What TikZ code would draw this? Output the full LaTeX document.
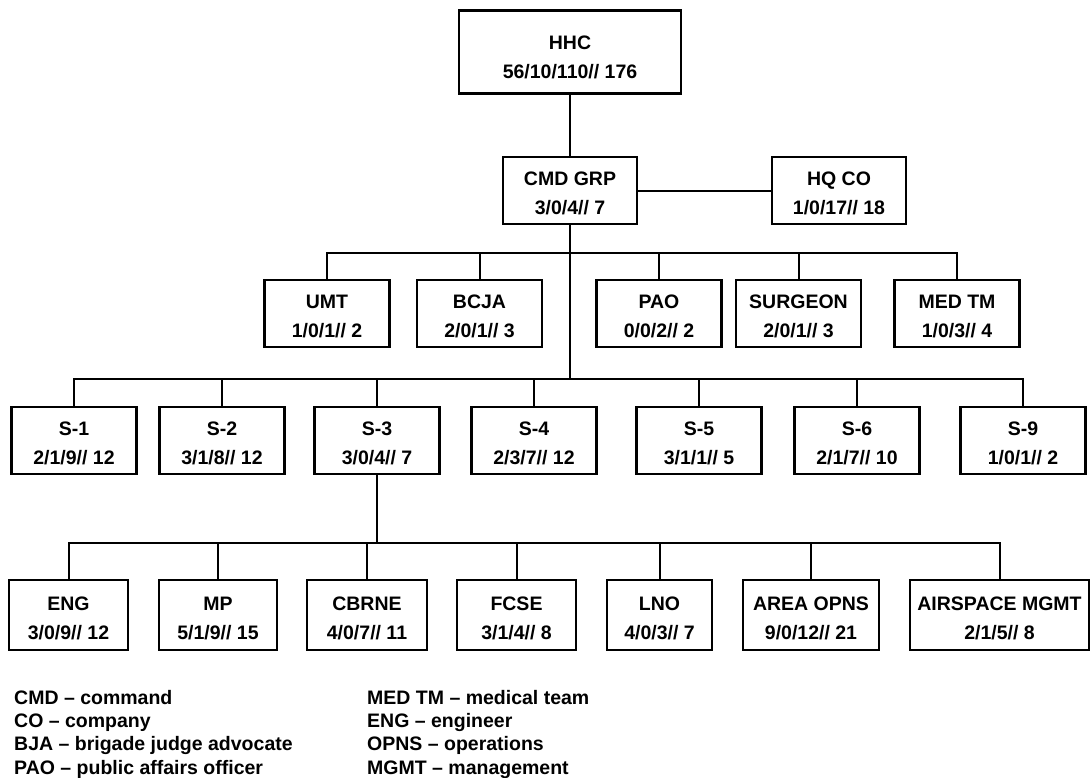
\documentclass[tikz,border=0pt]{standalone}
\usepackage{fontspec}
\setmainfont{Liberation Sans}
\newcommand\unitlabel[3][20pt]{\rule{0pt}{#1}#2\\#3}
\tikzset{
  unit/.style={draw, line width=2.8pt, inner sep=0pt, minimum width=125pt,
    minimum height=67pt, align=center,
    font=\bfseries\fontsize{19.5}{29}\selectfont},
  link/.style={line width=2pt},
  legend/.style={anchor=base west, inner sep=0pt,
    font=\bfseries\fontsize{19.5}{24}\selectfont}
}
\begin{document}
\begin{tikzpicture}[x=1pt,y=-1pt]
   \useasboundingbox (0,0) rectangle (1091,778);
   \node[unit, minimum width=222pt, minimum height=83pt] (hhc) at (570,52) {\unitlabel[23.5pt]{HHC}{56/10/110// 176}};
   \node[unit, minimum width=134pt] (cmd) at (570,190.5) {\unitlabel{CMD GRP}{3/0/4// 7}};
   \node[unit, minimum width=134pt] (hqco) at (839,190.5) {\unitlabel{HQ CO}{1/0/17// 18}};
   \coordinate (bus2) at (570,253);
   \coordinate (bus3) at (570,379);
   % staff sections
   \node[unit] (umt) at (327,313.5) {\unitlabel{UMT}{1/0/1// 2}};
   \node[unit] (bcja) at (479.5,313.5) {\unitlabel{BCJA}{2/0/1// 3}};
   \node[unit] (pao) at (659,313.5) {\unitlabel{PAO}{0/0/2// 2}};
   \node[unit] (surgeon) at (798.5,313.5) {\unitlabel{SURGEON}{2/0/1// 3}};
   \node[unit] (medtm) at (957,313.5) {\unitlabel{MED TM}{1/0/3// 4}};
   \node[unit] (s1) at (74,440.5) {\unitlabel{S-1}{2/1/9// 12}};
   \node[unit] (s2) at (222,440.5) {\unitlabel{S-2}{3/1/8// 12}};
   \node[unit] (s3) at (377,440.5) {\unitlabel{S-3}{3/0/4// 7}};
   \node[unit] (s4) at (534,440.5) {\unitlabel{S-4}{2/3/7// 12}};
   \node[unit] (s5) at (699,440.5) {\unitlabel{S-5}{3/1/1// 5}};
   \node[unit] (s6) at (857,440.5) {\unitlabel{S-6}{2/1/7// 10}};
   \node[unit] (s9) at (1023,440.5) {\unitlabel{S-9}{1/0/1// 2}};
   \coordinate (bus4) at (377,543);
   % S-3 cells
   \node[unit, minimum width=119pt, minimum height=70pt] (eng) at (68.5,615) {\unitlabel{ENG}{3/0/9// 12}};
   \node[unit, minimum width=118pt, minimum height=70pt] (mp) at (218,615) {\unitlabel{MP}{5/1/9// 15}};
   \node[unit, minimum width=120pt, minimum height=70pt] (cbrne) at (367,615) {\unitlabel{CBRNE}{4/0/7// 11}};
   \node[unit, minimum width=119pt, minimum height=70pt] (fcse) at (516.5,615) {\unitlabel{FCSE}{3/1/4// 8}};
   \node[unit, minimum width=105pt, minimum height=70pt] (lno) at (659.5,615) {\unitlabel{LNO}{4/0/3// 7}};
   \node[unit, minimum width=136pt, minimum height=70pt] (areaopns) at (811,615) {\unitlabel{AREA OPNS}{9/0/12// 21}};
   \node[unit, minimum width=179pt, minimum height=70pt] (airspace) at (999.5,615) {\unitlabel{AIRSPACE MGMT}{2/1/5// 8}};
   \draw[link] (hhc) -- (cmd);
   \draw[link] (cmd) -- (hqco);
   \draw[link] (cmd) -- (bus3);
   \foreach \n in {umt,bcja,pao,surgeon,medtm}
     \draw[link] (bus2) -| (\n);
   \foreach \n in {s1,s2,s3,s4,s5,s6,s9}
     \draw[link] (bus3) -| (\n);
   \draw[link] (s3) -- (bus4);
   \foreach \n in {eng,mp,cbrne,fcse,lno,areaopns,airspace}
     \draw[link] (bus4) -| (\n);
   % abbreviations
   \foreach \t [count=\i] in {CMD – command, CO – company, BJA – brigade judge advocate, PAO – public affairs officer}
     \node[legend] (abbrl\i) at (14,{704+23.4*(\i-1)}) {\t};
   \foreach \t [count=\i] in {MED TM – medical team, ENG – engineer, OPNS – operations, MGMT – management}
     \node[legend] (abbrr\i) at (367,{704+23.4*(\i-1)}) {\t};
\end{tikzpicture}
\end{document}
